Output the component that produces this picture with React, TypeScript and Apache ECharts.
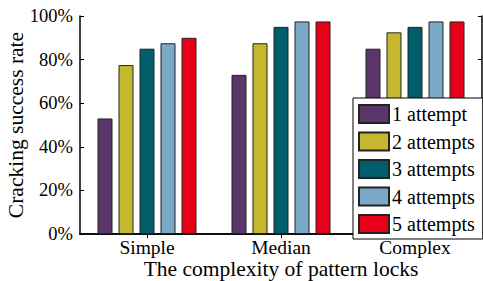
import React, { useEffect, useRef } from "react";
import * as echarts from "echarts";

const categories = ["Simple", "Median", "Complex"];
const seriesNames = ["1 attempt", "2 attempts", "3 attempts", "4 attempts", "5 attempts"];
const attempt1 = [53, 73, 85];
const attempt2 = [77.5, 87.5, 92.5];
const attempt3 = [85, 95, 95];
const attempt4 = [87.5, 97.5, 97.5];
const attempt5 = [90, 97.5, 97.5];
const colors = ["#5a366b", "#c5b82f", "#015f6d", "#7aa9c7", "#e60018"];

const FONT = "Liberation Serif";

export default function App() {
  const ref = useRef<HTMLDivElement>(null);
  useEffect(() => {
    const chart = echarts.init(ref.current!, null, { renderer: "svg" });
    const data = [attempt1, attempt2, attempt3, attempt4, attempt5];
    chart.setOption({
      animation: false,
      textStyle: { fontFamily: FONT, color: "#000" },
      grid: { left: 80, right: 1, top: 16, bottom: 47, outerBoundsMode: "none", containLabel: false },
      legend: {
        orient: "vertical",
        left: 353,
        top: 98,
        width: 128,
        icon: "rect",
        itemWidth: 30,
        itemHeight: 18,
        itemGap: 7.5,
        padding: [6, 8, 5, 5],
        backgroundColor: "#fff",
        borderColor: "#000",
        borderWidth: 1,
        textStyle: { fontFamily: FONT, fontSize: 20, color: "#000", padding: [0, 0, 0, -2] },
        data: seriesNames,
      },
      xAxis: [
        {
          type: "category",
          data: categories,
          axisLine: { lineStyle: { color: "#000", width: 1.5 } },
          axisTick: { show: false },
          axisLabel: { fontFamily: FONT, fontSize: 19.5, color: "#000", margin: 4, lineHeight: 18 },
          name: "The complexity of pattern locks",
          nameLocation: "middle",
          nameMoveOverlap: false,
          nameGap: 25,
          nameTextStyle: { fontFamily: FONT, fontSize: 21.5, color: "#000", lineHeight: 20 },
        },
        {
          type: "category",
          data: categories,
          position: "top",
          axisLine: { show: true, lineStyle: { color: "#000", width: 1.5 } },
          axisTick: { show: true, inside: true, alignWithLabel: true, length: 4, lineStyle: { color: "#000" } },
          axisLabel: { show: false },
        },
      ],
      yAxis: [
        {
          type: "value",
          min: 0,
          max: 100,
          interval: 20,
          splitLine: { show: false },
          axisLine: { show: true, lineStyle: { color: "#000", width: 1.5 } },
          axisTick: { show: true, inside: true, length: 4, lineStyle: { color: "#000" } },
          axisLabel: { formatter: "{value}%", fontFamily: FONT, fontSize: 18.5, color: "#000", margin: 7 },
          name: "Cracking success rate",
          nameLocation: "middle",
          nameMoveOverlap: false,
          nameGap: 53,
          nameTextStyle: { fontFamily: FONT, fontSize: 21.5, color: "#000" },
        },
        {
          type: "value",
          min: 0,
          max: 100,
          interval: 20,
          position: "right",
          splitLine: { show: false },
          axisLine: { show: true, lineStyle: { color: "#000", width: 1.5 } },
          axisTick: { show: true, inside: true, length: 4, lineStyle: { color: "#000" } },
          axisLabel: { show: false },
        },
      ],
      series: seriesNames.map((name, i) => ({
        name,
        type: "bar",
        data: data[i],
        barWidth: 15,
        barGap: "40%",
        itemStyle: { color: colors[i], borderColor: "#222", borderWidth: 1 },
      })),
    });
    return () => chart.dispose();
  }, []);
  return <div ref={ref} style={{ width: 483, height: 281, position: "absolute", left: 0, top: 0 }} />;
}
